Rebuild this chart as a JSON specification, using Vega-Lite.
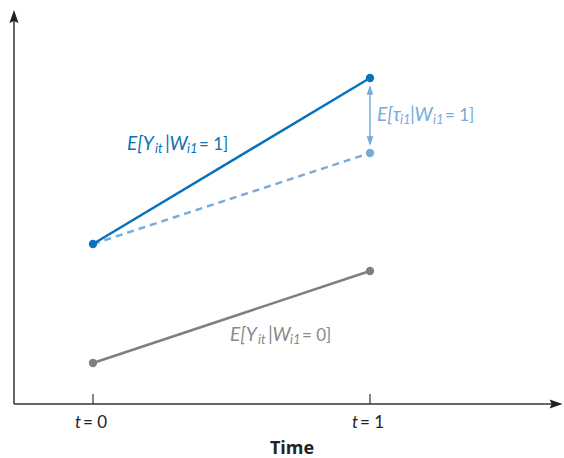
{
  "$schema": "https://vega.github.io/schema/vega-lite/v6.json",
  "width": 564,
  "height": 458,
  "padding": 0,
  "autosize": "none",
  "background": "white",
  "config": {"view": {"stroke": null}, "font": "Lato"},
  "datasets": {
    "treated": [{"x": 0, "y": 1.60}, {"x": 1, "y": 3.26}],
    "counter": [{"x": 0, "y": 1.60}, {"x": 1, "y": 2.51}],
    "control": [{"x": 0, "y": 0.41}, {"x": 1, "y": 1.33}],
    "yaxis": [{"x": -0.2852, "y": 0, "y2": 3.90}],
    "xaxis": [{"x": -0.2852, "x2": 1.66, "y": 0}],
    "ticks": [{"x": 0, "y": 0, "y2": 0.1}, {"x": 1, "y": 0, "y2": 0.1}],
    "yarrow": [{"x": -0.2852, "y": 3.875}],
    "xarrow": [{"x": 1.672, "y": 0}],
    "gap": [{"x": 1, "y": 3.17, "y2": 2.60}],
    "gapUp": [{"x": 1, "y": 3.14}],
    "gapDown": [{"x": 1, "y": 2.63}],
    "labels": [
      {"x": 0.1227, "y": 2.54, "text": "E[Y", "g": "a", "kind": "main"},
      {"x": 0.2238, "y": 2.54, "text": "it", "g": "a", "kind": "sub"},
      {"x": 0.2599, "y": 2.54, "text": "|W", "g": "a", "kind": "main"},
      {"x": 0.3394, "y": 2.54, "text": "i1", "g": "a", "kind": "sub"},
      {"x": 0.3827, "y": 2.54, "text": "= 1]", "g": "a", "kind": "up"},
      {"x": 1.0253, "y": 2.83, "text": "E[τ", "g": "b", "kind": "main"},
      {"x": 1.1083, "y": 2.83, "text": "i1", "g": "b", "kind": "sub"},
      {"x": 1.1444, "y": 2.83, "text": "|W", "g": "b", "kind": "main"},
      {"x": 1.2274, "y": 2.83, "text": "i1", "g": "b", "kind": "sub"},
      {"x": 1.2708, "y": 2.83, "text": "= 1]", "g": "b", "kind": "up"},
      {"x": 0.4946, "y": 0.63, "text": "E[Y", "g": "c", "kind": "main"},
      {"x": 0.5957, "y": 0.63, "text": "it", "g": "c", "kind": "sub"},
      {"x": 0.6318, "y": 0.63, "text": "|W", "g": "c", "kind": "main"},
      {"x": 0.7112, "y": 0.63, "text": "i1", "g": "c", "kind": "sub"},
      {"x": 0.7545, "y": 0.63, "text": "= 0]", "g": "c", "kind": "up"}
    ],
    "tickT": [{"x": -0.065, "y": -0.19, "text": "t"}, {"x": 0.935, "y": -0.19, "text": "t"}],
    "tickEq": [{"x": -0.0361, "y": -0.19, "text": "= 0"}, {"x": 0.9639, "y": -0.19, "text": "= 1"}],
    "title": [{"x": 0.7184, "y": -0.445, "text": "Time"}]
  },
  "encoding": {
    "x": {"field": "x", "type": "quantitative", "scale": {"domain": [-0.3357, 1.7004], "nice": false, "zero": false}, "axis": null},
    "y": {"field": "y", "type": "quantitative", "scale": {"domain": [-0.54, 4.04], "nice": false, "zero": false}, "axis": null}
  },
  "layer": [
    {"data": {"name": "yaxis"}, "mark": {"type": "rule", "color": "#333333", "strokeWidth": 1.5}, "encoding": {"y2": {"field": "y2"}}},
    {"data": {"name": "xaxis"}, "mark": {"type": "rule", "color": "#333333", "strokeWidth": 1.5}, "encoding": {"x2": {"field": "x2"}}},
    {"data": {"name": "ticks"}, "mark": {"type": "rule", "color": "#333333", "strokeWidth": 1.2}, "encoding": {"y2": {"field": "y2"}}},
    {"data": {"name": "yarrow"}, "mark": {"type": "point", "shape": "M0,-1L0.7,1L0,0.7L-0.7,1Z", "size": 169, "filled": true, "color": "#222222", "opacity": 1}},
    {"data": {"name": "xarrow"}, "mark": {"type": "point", "shape": "M1,0L-1,-0.7L-0.7,0L-1,0.7Z", "size": 169, "filled": true, "color": "#222222", "opacity": 1}},
    {"data": {"name": "counter"}, "mark": {"type": "line", "color": "#78aadc", "strokeWidth": 2.5, "strokeDash": [7, 5]}, "encoding": {}},
    {"data": {"name": "treated"}, "mark": {"type": "line", "color": "#0a72bb", "strokeWidth": 2.5}, "encoding": {}},
    {"data": {"name": "control"}, "mark": {"type": "line", "color": "#7f7f7f", "strokeWidth": 2.5}, "encoding": {}},
    {"data": {"name": "gap"}, "mark": {"type": "rule", "color": "#78aadc", "strokeWidth": 1.5}, "encoding": {"y2": {"field": "y2"}}},
    {"data": {"name": "gapUp"}, "mark": {"type": "point", "shape": "M0,-1L0.7,1L-0.7,1Z", "size": 90, "filled": true, "color": "#78aadc", "opacity": 1}},
    {"data": {"name": "gapDown"}, "mark": {"type": "point", "shape": "M0,1L0.7,-1L-0.7,-1Z", "size": 90, "filled": true, "color": "#78aadc", "opacity": 1}},
    {"data": {"name": "counter"}, "transform": [{"filter": "datum.x == 1"}], "mark": {"type": "circle", "color": "#78aadc", "size": 70, "opacity": 1}},
    {"data": {"name": "treated"}, "mark": {"type": "circle", "color": "#0a72bb", "size": 70, "opacity": 1}},
    {"data": {"name": "control"}, "mark": {"type": "circle", "color": "#7f7f7f", "size": 70, "opacity": 1}},
    {"data": {"name": "labels"}, "transform": [{"filter": "datum.kind == 'main'"}],
      "mark": {"type": "text", "align": "left", "baseline": "alphabetic", "fontSize": 19, "fontStyle": "italic"},
      "encoding": {"text": {"field": "text"}, "color": {"field": "g", "type": "nominal", "scale": {"domain": ["a", "b", "c"], "range": ["#0a72bb", "#78aadc", "#8a8a8a"]}, "legend": null}}},
    {"data": {"name": "labels"}, "transform": [{"filter": "datum.kind == 'sub'"}],
      "mark": {"type": "text", "align": "left", "baseline": "alphabetic", "fontSize": 13, "fontStyle": "italic", "dy": 3},
      "encoding": {"text": {"field": "text"}, "color": {"field": "g", "type": "nominal", "scale": {"domain": ["a", "b", "c"], "range": ["#0a72bb", "#78aadc", "#8a8a8a"]}, "legend": null}}},
    {"data": {"name": "labels"}, "transform": [{"filter": "datum.kind == 'up'"}],
      "mark": {"type": "text", "align": "left", "baseline": "alphabetic", "fontSize": 17},
      "encoding": {"text": {"field": "text"}, "color": {"field": "g", "type": "nominal", "scale": {"domain": ["a", "b", "c"], "range": ["#0a72bb", "#78aadc", "#8a8a8a"]}, "legend": null}}},
    {"data": {"name": "tickT"}, "mark": {"type": "text", "align": "left", "baseline": "middle", "fontSize": 17, "fontStyle": "italic", "color": "#222222"}, "encoding": {"text": {"field": "text"}}},
    {"data": {"name": "tickEq"}, "mark": {"type": "text", "align": "left", "baseline": "middle", "fontSize": 17, "color": "#222222"}, "encoding": {"text": {"field": "text"}}},
    {"data": {"name": "title"}, "mark": {"type": "text", "align": "center", "baseline": "middle", "fontSize": 18, "fontWeight": "bold", "font": "Open Sans", "color": "#222222"}, "encoding": {"text": {"field": "text"}}}
  ]
}
